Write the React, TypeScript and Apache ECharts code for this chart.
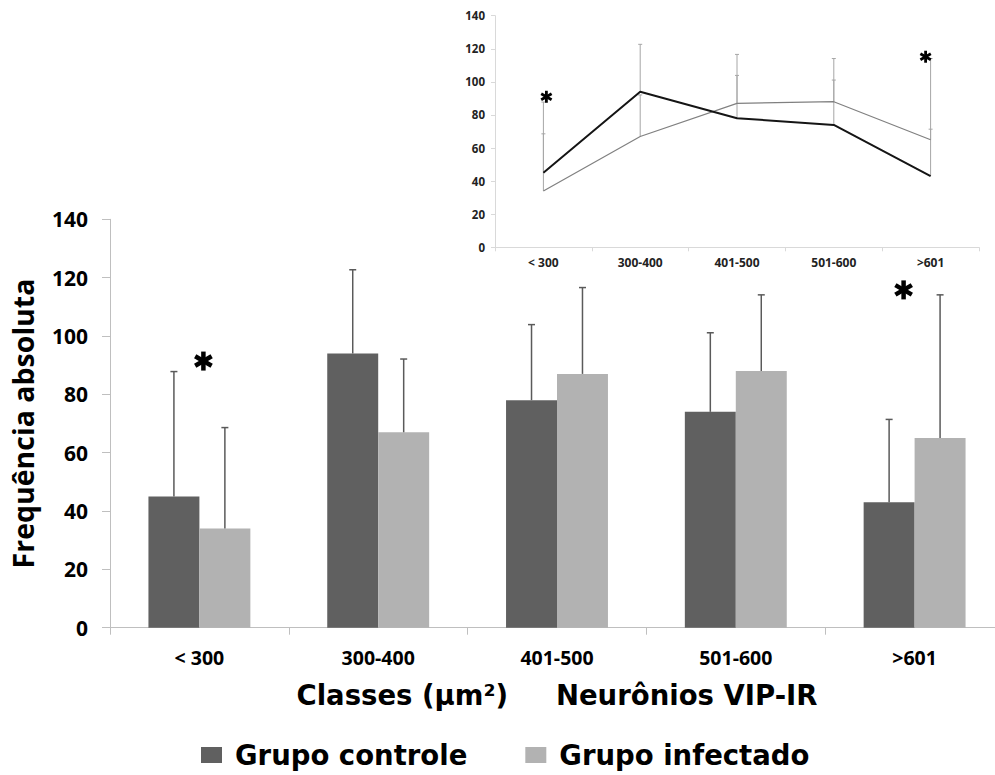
import { useEffect, useRef } from 'react';
import * as echarts from 'echarts';

const categories = ['< 300', '300-400', '401-500', '501-600', '>601'];
const controle = [45, 94, 78, 74, 43];
const infectado = [34, 67, 87, 88, 65];
const controleSD = [42.8, 28.7, 25.9, 27.1, 28.4];
const infectadoSD = [34.6, 25.1, 29.6, 26.1, 49.1];
const asteriscosPrincipal = [[0, 91.4], [4, 115.8]];
const asteriscosInset = [[0, 91], [4, 115.2]];

const FONT = '"Open Sans", "DejaVu Sans", sans-serif';
const WIDE = '"DejaVu Sans", "Open Sans", sans-serif';
const DARK = '#606060';
const LIGHT = '#b2b2b2';
const CAT_GAP = 0.43;

function errorRender(sign: number, color: string, lw: number, cap: number, grouped: boolean) {
  return (params: any, api: any) => {
    const i = api.value(0);
    const v = api.value(1);
    const top = api.value(2);
    const catW = api.size([1, 0])[0];
    const bw = grouped ? (catW * (1 - CAT_GAP)) / 2 : 0;
    const p0 = api.coord([i, v]);
    const p1 = api.coord([i, top]);
    const x = p0[0] + (sign * bw) / 2;
    return {
      type: 'group',
      children: [
        { type: 'line', shape: { x1: x, y1: p0[1], x2: x, y2: p1[1] }, style: { stroke: color, lineWidth: lw } },
        { type: 'line', shape: { x1: x - cap, y1: p1[1], x2: x + cap, y2: p1[1] }, style: { stroke: color, lineWidth: lw } },
      ],
    };
  };
}

function starRender(r: number, lw: number, nudges: number[]) {
  return (params: any, api: any) => {
    const c = api.coord([api.value(0), api.value(1)]);
    const cx = c[0] + nudges[params.dataIndex];
    const cy = c[1];
    const children = [90, 30, 150].map((deg) => {
      const a = (deg * Math.PI) / 180;
      return {
        type: 'line',
        shape: {
          x1: cx - r * Math.cos(a),
          y1: cy - r * Math.sin(a),
          x2: cx + r * Math.cos(a),
          y2: cy + r * Math.sin(a),
        },
        style: { stroke: '#000', lineWidth: lw },
      };
    });
    return { type: 'group', children };
  };
}

export default function App() {
  const ref = useRef<HTMLDivElement>(null);
  useEffect(() => {
    if (!ref.current) return;
    const chart = echarts.init(ref.current, undefined, { renderer: 'svg' });
    const option: any = {
      animation: false,
      backgroundColor: '#ffffff',
      textStyle: { fontFamily: FONT },
      legend: {
        data: ['Grupo controle', 'Grupo infectado'],
        left: 201,
        top: 741,
        padding: 0,
        itemWidth: 21,
        itemHeight: 16,
        itemGap: 58,
        icon: 'rect',
        textStyle: { fontSize: 27.5, fontWeight: 'bold', color: '#000', fontFamily: WIDE, padding: [0, 0, 0, 8] },
      },
      grid: [
        { left: 110, right: -9, top: 219.3, bottom: 147.3, outerBoundsMode: 'none' },
        { left: 495, right: 16, top: 15.7, bottom: 527.7, outerBoundsMode: 'none' },
      ],
      xAxis: [
        {
          type: 'category',
          gridIndex: 0,
          data: categories,
          axisLine: { lineStyle: { color: '#bfbfbf', width: 1 } },
          axisTick: { show: true, length: 7, lineStyle: { color: '#bfbfbf' } },
          axisLabel: { fontSize: 19.5, fontWeight: 'bold', color: '#000', margin: 20, fontFamily: FONT },
          name: 'Classes (µm²)     Neurônios VIP-IR',
          nameLocation: 'middle',
          nameGap: 67,
          nameTextStyle: { fontSize: 27.5, fontWeight: 'bold', color: '#000', verticalAlign: 'middle', fontFamily: WIDE },
        },
        {
          type: 'category',
          gridIndex: 1,
          data: categories,
          axisLine: { lineStyle: { color: '#d9d9d9', width: 1 } },
          axisTick: { show: true, length: 4, lineStyle: { color: '#d9d9d9' } },
          axisLabel: { fontSize: 12, fontWeight: 'bold', color: '#222', margin: 9, fontFamily: FONT },
        },
      ],
      yAxis: [
        {
          type: 'value',
          gridIndex: 0,
          min: 0,
          max: 140,
          interval: 20,
          axisLine: { show: true, lineStyle: { color: '#bfbfbf', width: 1 } },
          axisTick: { show: true, length: 8, lineStyle: { color: '#bfbfbf' } },
          splitLine: { show: false },
          axisLabel: { fontSize: 21, fontWeight: 'bold', color: '#000', margin: 22, fontFamily: FONT },
          name: 'Frequência absoluta',
          nameLocation: 'middle',
          nameGap: 87,
          nameTextStyle: { fontSize: 28.5, fontWeight: 'bold', color: '#000', fontFamily: FONT, verticalAlign: 'middle' },
        },
        {
          type: 'value',
          gridIndex: 1,
          min: 0,
          max: 140,
          interval: 20,
          axisLine: { show: true, lineStyle: { color: '#d9d9d9', width: 1 } },
          axisTick: { show: true, length: 4, lineStyle: { color: '#d9d9d9' } },
          splitLine: { show: false },
          axisLabel: { fontSize: 11.5, fontWeight: 'bold', color: '#222', margin: 10, fontFamily: FONT },
        },
      ],
      series: [
        {
          name: 'Grupo controle',
          type: 'bar',
          xAxisIndex: 0,
          yAxisIndex: 0,
          data: controle,
          barGap: '0%',
          barCategoryGap: CAT_GAP * 100 + '%',
          itemStyle: { color: DARK },
        },
        {
          name: 'Grupo infectado',
          type: 'bar',
          xAxisIndex: 0,
          yAxisIndex: 0,
          data: infectado,
          barGap: '0%',
          barCategoryGap: CAT_GAP * 100 + '%',
          itemStyle: { color: LIGHT },
        },
        {
          type: 'custom',
          xAxisIndex: 0,
          yAxisIndex: 0,
          renderItem: errorRender(-1, '#5a5a5a', 1.5, 3.5, true),
          data: controle.map((v, i) => [i, v, v + controleSD[i]]),
          encode: { x: 0, y: [1, 2] },
          z: 5,
          silent: true,
        },
        {
          type: 'custom',
          xAxisIndex: 0,
          yAxisIndex: 0,
          renderItem: errorRender(1, '#5a5a5a', 1.5, 3.5, true),
          data: infectado.map((v, i) => [i, v, v + infectadoSD[i]]),
          encode: { x: 0, y: [1, 2] },
          z: 5,
          silent: true,
        },
        {
          type: 'custom',
          xAxisIndex: 0,
          yAxisIndex: 0,
          renderItem: starRender(9.5, 4.5, [4, -11]),
          data: asteriscosPrincipal,
          encode: { x: 0, y: 1 },
          z: 6,
          silent: true,
        },
        {
          type: 'custom',
          xAxisIndex: 1,
          yAxisIndex: 1,
          renderItem: errorRender(0, '#a6a6a6', 1, 2, false),
          data: controle.map((v, i) => [i, v, v + controleSD[i]]),
          encode: { x: 0, y: [1, 2] },
          z: 1,
          silent: true,
        },
        {
          type: 'custom',
          xAxisIndex: 1,
          yAxisIndex: 1,
          renderItem: errorRender(0, '#a6a6a6', 1, 2, false),
          data: infectado.map((v, i) => [i, v, v + infectadoSD[i]]),
          encode: { x: 0, y: [1, 2] },
          z: 1,
          silent: true,
        },
        {
          type: 'line',
          xAxisIndex: 1,
          yAxisIndex: 1,
          data: infectado,
          symbol: 'none',
          lineStyle: { color: '#808080', width: 1.2 },
          z: 3,
          silent: true,
        },
        {
          type: 'line',
          xAxisIndex: 1,
          yAxisIndex: 1,
          data: controle,
          symbol: 'none',
          lineStyle: { color: '#151515', width: 2 },
          z: 4,
          silent: true,
        },
        {
          type: 'custom',
          xAxisIndex: 1,
          yAxisIndex: 1,
          renderItem: starRender(6, 2.8, [3, -5]),
          data: asteriscosInset,
          encode: { x: 0, y: 1 },
          z: 6,
          silent: true,
        },
      ],
    };
    chart.setOption(option);
    return () => chart.dispose();
  }, []);
  return (
    <div
      ref={ref}
      style={{ position: 'fixed', left: 0, top: 0, width: '995px', height: '775px', background: '#fff' }}
    />
  );
}
